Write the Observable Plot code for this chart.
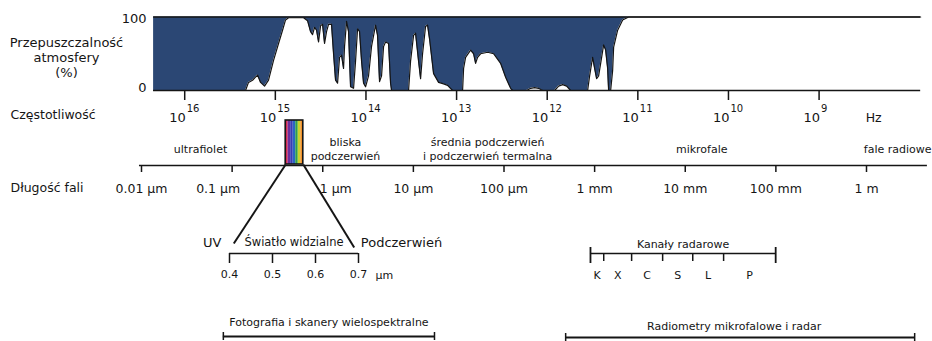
<!DOCTYPE html>
<html><head><meta charset="utf-8">
<script src="https://cdn.jsdelivr.net/npm/d3@7"></script>
<script src="https://cdn.jsdelivr.net/npm/@observablehq/plot@0.6"></script>
<style>body{margin:0;background:#fff} #chart{width:932px;height:341px}</style>
</head><body><div id="chart"></div>
<script>
// ---------- DATA ----------
// Atmospheric transmission (%) vs wavelength (µm)
const transWavelength = [0.0136, 0.1406, 0.1517, 0.168, 0.1907, 0.2059, 0.2279, 0.2522, 0.2864, 0.3252,
  0.36, 0.3885, 0.4195, 0.614, 0.6458, 0.6796, 0.7333, 0.7717, 0.812, 0.8543,
  0.8988, 0.9456, 0.995, 1.047, 1.101, 1.159, 1.25, 1.316, 1.384, 1.457,
  1.532, 1.612, 1.696, 1.74, 1.831, 1.926, 2.027, 2.188, 2.301, 2.422,
  2.548, 2.681, 2.82, 2.968, 3.202, 3.455, 3.825, 4.024, 4.235, 4.457,
  4.69, 4.934, 5.325, 5.602, 5.746, 8.851, 9.313, 10.05, 10.57, 11.41,
  12.01, 12.63, 13.63, 14.34, 15.09, 16.71, 18.97, 21.54, 23.85, 27.09,
  34.91, 35.82, 37.69, 42.79, 46.18, 48.59, 51.12, 55.17, 65.92, 76.79,
  91.73, 104.2, 118.3, 124.4, 177.6, 196.6, 217.6, 240.9, 266.7, 361.9,
  400.6, 443.6, 490.9, 543.5, 837, 880.6, 950.3, 1000, 1052, 1107,
  1195, 1257, 1323, 1392, 1427, 1502, 1580, 1621, 1795, 2038,
  2374, 3960000];
const transPercent = [0,0,11,14,21,11,6,14,41,64,
  82,96,99,99,97,95,80,76,86,82,
  66,88,90,64,80,90,90,50,14,10,
  45,48,30,60,94,80,5,3,40,84,
  80,40,10,5,20,60,89,75,12,20,
  60,66,64,10,0,0,40,75,78,40,
  16,50,87,89,70,23,11,9,7,0,
  0,30,45,55,50,37,45,50,52,50,
  37,18,3,0,0,3,4,3,0,0,
  6,8,6,0,0,20,45,30,16,20,
  45,62,55,30,0,0,27,59,82,96,
  100,100];

const freqExponents = [16, 15, 14, 13, 12, 11, 10, 9];           // 10^n Hz
const wavelengthTicks = [0.01, 0.1, 1, 10, 100, 1000, 1e4, 1e5, 1e6]; // µm
const wavelengthLabels = ["0.01 µm", "0.1 µm", "1 µm", "10 µm", "100 µm", "1 mm", "10 mm", "100 mm", "1 m"];
const regionNames = ["ultrafiolet", "bliska\npodczerwień", "średnia podczerwień\ni podczerwień termalna", "mikrofale", "fale radiowe"];
const regionCenters = [0.0448, 1.78, 66, 15200, 2.21e6];          // µm
const visibleBand = [0.39, 0.61];                                  // µm, as drawn
const visibleColors = ["#d42a52", "#6b2f9e", "#3a3cb2", "#2a66c2", "#2f9e4c", "#cbd22c", "#f0922a"];
const visibleTicks = [0.4, 0.5, 0.6, 0.7];                         // µm
const insetNames = ["UV", "Podczerwień"];
const insetCenters = [0.36, 0.8];                                  // µm
const radarBands = ["K", "X", "C", "S", "L", "P"];
const radarEdgesMm = [0.9, 1.26, 2.56, 5.63, 12.1, 26.5, 99.5];   // as drawn
const photoRange = [0.08, 17.1];                                   // µm
const radioRange = [479, 3.4e6];                                   // µm

// ---------- LAYOUT ----------
const FONT = "DejaVu Sans";
const INK = "#151515";
const C = 299792458e6; // speed of light in µm/s
const xOpts = {type: "log", domain: [0.01, 1e6], range: [141, 866], axis: null};
const yOpts = {type: "linear", domain: [0, 100], range: [90, 16.5], axis: null};
const row = d3.scaleLinear(yOpts.range, yOpts.domain);   // pixel row -> y value
const xPx = d3.scaleLog(xOpts.domain, xOpts.range);
const inset = d3.scaleLinear([0.4, 0.7], [229, 358]);    // visible-light inset scale
const insetX = v => xPx.invert(inset(v));
const labelShift = {"0.1 µm": -14, "1 µm": 13};

const trans = transWavelength.map((w, i) => ({w, t: transPercent[i]}));
const radarEdges = radarEdgesMm.map(d => d * 1000);
const nV = visibleColors.length;
const vAt = f => visibleBand[0] * (visibleBand[1] / visibleBand[0]) ** f;

const chart = Plot.plot({
  width: 932, height: 341, margin: 0,
  x: xOpts, y: yOpts,
  style: {fontFamily: FONT, background: "white", color: INK, overflow: "visible"},
  marks: [
    // transmission
    Plot.areaY(trans, {x: "w", y1: "t", y2: () => 100, fill: "#2b4774"}),
    Plot.line(trans, {x: "w", y: "t", stroke: INK, strokeWidth: 1.2}),
    Plot.ruleY([0, 100], {x1: () => transWavelength[0], x2: () => transWavelength.at(-1), stroke: INK, strokeWidth: 1.6}),
    Plot.text([100], {y: d => d, text: d => String(d), frameAnchor: "left", dx: 146, dy: 2, textAnchor: "end", fontSize: 13, fill: INK}),
    Plot.text([0], {y: d => d, text: d => String(d), frameAnchor: "left", dx: 146, dy: -3, textAnchor: "end", fontSize: 13, fill: INK}),
    Plot.text(["Przepuszczalność\natmosfery\n(%)"], {frameAnchor: "left", dx: 66, y: () => row(57), textAnchor: "middle", fontSize: 13, lineHeight: 1.15, fill: INK}),

    // frequency axis
    Plot.ruleX(freqExponents, {x: e => C / 10 ** e, y1: () => row(91), y2: () => row(100), stroke: INK, strokeWidth: 1.5}),
    Plot.text(freqExponents, {x: e => C / 10 ** e, y: () => row(117), text: () => "10", textAnchor: "end", dx: 1, fontSize: 13, fill: INK}),
    Plot.text(freqExponents, {x: e => C / 10 ** e, y: () => row(108), text: e => String(e), textAnchor: "start", dx: 2, fontSize: 10, fill: INK}),
    Plot.text(["Hz"], {x: () => C / 2.5e8, y: () => row(117), fontSize: 12.5, fill: INK}),
    Plot.text(["Częstotliwość"], {frameAnchor: "left", dx: 10, y: () => row(114), textAnchor: "start", fontSize: 12.5, fill: INK}),

    // spectral regions
    Plot.text(regionNames, {x: (d, i) => regionCenters[i], y: () => row(148), fontSize: 11, lineHeight: 1.3, fill: INK}),

    // wavelength axis
    Plot.ruleY([0], {y: () => row(165), x1: () => 0.0095, x2: () => 4.7e6, stroke: INK, strokeWidth: 1.5}),
    Plot.ruleX(wavelengthTicks, {x: d => d, y1: () => row(165), y2: () => row(172), stroke: INK, strokeWidth: 1.5}),
    Plot.text(wavelengthTicks, {x: (d, i) => xPx.invert(xPx(d) + (labelShift[wavelengthLabels[i]] || 0)), y: () => row(188), text: (d, i) => wavelengthLabels[i], fontSize: 12.5, fill: INK}),
    Plot.text(["Długość fali"], {frameAnchor: "left", dx: 10, y: () => row(187), textAnchor: "start", fontSize: 12.5, fill: INK}),

    // visible light box
    Plot.rect(visibleColors, {x1: (d, i) => vAt(i / nV), x2: (d, i) => vAt((i + 1) / nV), y1: () => row(164), y2: () => row(120), fill: d => d}),
    Plot.rect([visibleBand], {x1: d => d[0], x2: d => d[1], y1: () => row(164), y2: () => row(120), fill: "none", stroke: INK, strokeWidth: 1.6}),
    Plot.link([0, 1], {x1: i => visibleBand[i], y1: () => row(164), x2: i => insetX([0.41, 0.69][i]), y2: i => row([243, 247][i]), stroke: INK, strokeWidth: 2}),

    // visible inset
    Plot.text(insetNames, {x: (d, i) => insetX(insetCenters[i]), y: () => row(242), fontSize: 13, fill: INK}),
    Plot.text(["Światło widzialne"], {x: () => insetX(0.55), y: () => row(242), fontSize: 11.5, fill: INK}),
    Plot.ruleY([0], {y: () => row(253), x1: () => insetX(0.4), x2: () => insetX(0.7), stroke: INK, strokeWidth: 1.5}),
    Plot.ruleX(visibleTicks, {x: d => insetX(d), y1: () => row(253), y2: () => row(263), stroke: INK, strokeWidth: 1.5}),
    Plot.text(visibleTicks, {x: d => insetX(d), y: () => row(274), text: d => d.toFixed(1), fontSize: 11, fill: INK}),
    Plot.text(["µm"], {x: () => insetX(0.76), y: () => row(275), fontSize: 11, fill: INK}),

    // radar channels
    Plot.text(["Kanały radarowe"], {x: () => Math.sqrt(radarEdges[0] * radarEdges.at(-1)), y: () => row(244), fontSize: 11, fill: INK}),
    Plot.ruleY([0], {y: () => row(253), x1: () => radarEdges[0], x2: () => radarEdges.at(-1), stroke: INK, strokeWidth: 1.5}),
    Plot.ruleX([radarEdges[0], radarEdges.at(-1)], {x: d => d, y1: () => row(247), y2: () => row(263), stroke: INK, strokeWidth: 1.8}),
    Plot.ruleX(radarEdges.slice(1, -1), {x: d => d, y1: () => row(253), y2: () => row(261), stroke: INK, strokeWidth: 1.5}),
    Plot.text(radarBands, {x: (d, i) => Math.sqrt(radarEdges[i] * radarEdges[i + 1]), y: () => row(275), fontSize: 11, fill: INK}),

    // sensor brackets
    Plot.text(["Fotografia i skanery wielospektralne"], {x: () => Math.sqrt(photoRange[0] * photoRange[1]), y: () => row(322), fontSize: 11, fill: INK}),
    Plot.ruleY([0], {y: () => row(336), x1: () => photoRange[0], x2: () => photoRange[1], stroke: INK, strokeWidth: 1.8}),
    Plot.ruleX(photoRange, {x: d => d, y1: () => row(332), y2: () => row(340), stroke: INK, strokeWidth: 1.5}),
    Plot.text(["Radiometry mikrofalowe i radar"], {x: () => Math.sqrt(radioRange[0] * radioRange[1]), dx: -6, y: () => row(326), fontSize: 11, fill: INK}),
    Plot.ruleY([0], {y: () => row(337), x1: () => radioRange[0], x2: () => radioRange[1], stroke: INK, strokeWidth: 1.8}),
    Plot.ruleX(radioRange, {x: d => d, y1: () => row(333), y2: () => row(341), stroke: INK, strokeWidth: 1.5})
  ]
});
document.getElementById("chart").append(chart);
</script>
</body></html>
